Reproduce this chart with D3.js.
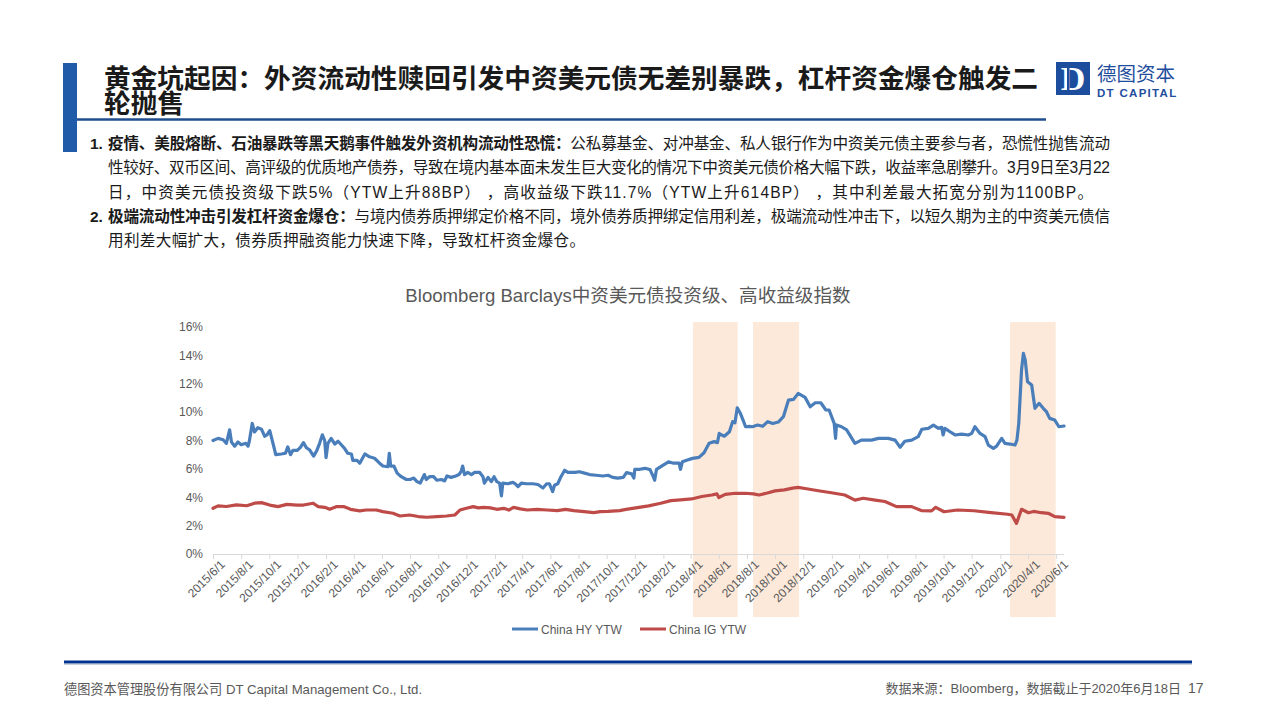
<!DOCTYPE html>
<html><head><meta charset="utf-8">
<script src="https://cdn.jsdelivr.net/npm/d3@7"></script>
<style>body{margin:0;background:#fff}svg{display:block}</style>
</head><body>
<svg id="c" width="1280" height="720"></svg>
<script>
// ---------- DATA ----------
const seriesNames = ["China HY YTW", "China IG YTW"];
const hyData = [
["2015-06-01",8.0],["2015-06-12",8.15],["2015-06-23",8.05],["2015-06-30",7.8],["2015-07-07",8.75],["2015-07-11",7.9],
["2015-07-18",7.6],["2015-07-25",7.9],["2015-08-01",7.7],["2015-08-11",7.8],["2015-08-16",7.6],["2015-08-19",8.0],
["2015-08-25",9.2],["2015-08-30",8.6],["2015-09-06",8.9],["2015-09-14",8.8],["2015-09-21",8.3],["2015-09-26",8.4],
["2015-10-02",8.7],["2015-10-09",7.8],["2015-10-15",7.0],["2015-10-27",7.05],["2015-11-05",7.1],["2015-11-10",7.55],
["2015-11-16",7.0],["2015-11-21",7.3],["2015-11-30",7.3],["2015-12-07",7.5],["2015-12-14",7.85],["2015-12-20",7.5],
["2015-12-27",7.35],["2016-01-05",6.9],["2016-01-12",7.3],["2016-01-18",7.8],["2016-01-24",8.4],["2016-01-29",8.0],
["2016-02-01",6.8],["2016-02-05",7.8],["2016-02-12",8.15],["2016-02-20",7.75],["2016-02-27",7.95],["2016-03-05",7.7],
["2016-03-12",7.45],["2016-03-19",7.1],["2016-03-27",7.05],["2016-03-30",6.6],["2016-04-08",6.6],["2016-04-14",6.4],
["2016-04-25",7.05],["2016-05-05",6.85],["2016-05-16",6.75],["2016-05-27",6.4],["2016-06-03",6.2],["2016-06-14",6.15],
["2016-06-17",7.1],["2016-06-20",6.2],["2016-06-27",6.2],["2016-07-04",5.7],["2016-07-13",5.45],["2016-07-24",5.25],
["2016-08-01",5.25],["2016-08-09",5.35],["2016-08-16",5.1],["2016-08-23",5.0],["2016-09-01",5.6],["2016-09-05",5.25],
["2016-09-12",5.45],["2016-09-21",5.45],["2016-09-28",5.2],["2016-10-08",5.25],["2016-10-15",5.15],["2016-10-20",5.5],
["2016-10-29",5.4],["2016-11-08",5.5],["2016-11-15",5.6],["2016-11-20",5.85],["2016-11-23",6.2],["2016-11-27",5.6],
["2016-12-04",5.75],["2016-12-12",5.6],["2016-12-19",5.75],["2016-12-30",5.75],["2017-01-06",5.45],["2017-01-09",5.0],
["2017-01-17",5.4],["2017-01-24",5.1],["2017-01-30",5.45],["2017-02-05",5.1],["2017-02-11",5.0],["2017-02-15",4.1],
["2017-02-18",5.0],["2017-03-01",4.95],["2017-03-12",5.05],["2017-03-17",4.95],["2017-03-23",4.75],["2017-03-30",5.0],
["2017-04-10",4.95],["2017-04-24",4.95],["2017-05-05",4.9],["2017-05-16",4.65],["2017-05-24",4.95],["2017-05-30",4.95],
["2017-06-06",4.4],["2017-06-10",4.85],["2017-06-17",4.95],["2017-06-24",5.45],["2017-07-02",5.9],["2017-07-09",5.75],
["2017-07-24",5.75],["2017-08-03",5.8],["2017-08-14",5.7],["2017-08-25",5.6],["2017-09-08",5.55],["2017-09-23",5.5],
["2017-10-04",5.55],["2017-10-14",5.4],["2017-10-25",5.35],["2017-11-06",5.4],["2017-11-13",5.74],["2017-11-24",5.65],
["2017-11-29",5.35],["2017-12-01",5.97],["2017-12-12",5.97],["2017-12-23",6.04],["2018-01-03",5.95],["2018-01-10",5.45],
["2018-01-13",5.2],["2018-01-17",5.97],["2018-01-28",6.2],["2018-02-12",6.5],["2018-02-23",6.4],["2018-03-07",6.4],
["2018-03-10",5.97],["2018-03-14",6.5],["2018-03-25",6.62],["2018-04-05",6.74],["2018-04-19",6.81],["2018-04-30",7.14],
["2018-05-11",7.8],["2018-05-22",7.92],["2018-05-29",7.85],["2018-06-02",8.5],["2018-06-06",8.4],["2018-06-13",8.3],
["2018-06-24",8.62],["2018-07-01",9.33],["2018-07-06",9.25],["2018-07-11",10.3],["2018-07-18",9.9],["2018-07-24",9.4],
["2018-07-29",8.97],["2018-08-06",9.0],["2018-08-13",8.97],["2018-08-24",9.09],["2018-09-04",9.0],["2018-09-15",9.33],
["2018-09-26",9.2],["2018-10-08",9.3],["2018-10-19",9.68],["2018-10-30",10.85],["2018-11-10",10.9],["2018-11-20",11.32],
["2018-12-05",11.04],["2018-12-16",10.38],["2018-12-27",10.66],["2019-01-08",10.66],["2019-01-19",10.15],["2019-01-26",10.15],
["2019-02-06",9.21],["2019-02-09",8.15],["2019-02-11",9.1],["2019-02-22",8.97],["2019-03-05",8.75],["2019-03-23",7.8],
["2019-04-06",8.03],["2019-04-28",8.03],["2019-05-13",8.15],["2019-06-03",8.15],["2019-06-18",8.03],["2019-06-29",7.52],
["2019-07-09",7.95],["2019-07-24",8.03],["2019-08-07",8.27],["2019-08-15",8.79],["2019-08-29",8.86],["2019-09-09",9.09],
["2019-09-20",8.86],["2019-09-27",8.93],["2019-09-30",8.39],["2019-10-04",8.86],["2019-10-15",8.62],["2019-10-26",8.39],
["2019-11-09",8.45],["2019-11-24",8.39],["2019-12-01",8.5],["2019-12-08",8.97],["2019-12-19",8.5],["2019-12-30",8.27],
["2020-01-06",7.68],["2020-01-17",7.45],["2020-01-24",7.6],["2020-02-04",8.15],["2020-02-11",7.8],["2020-02-22",7.75],
["2020-03-04",7.68],["2020-03-08",8.03],["2020-03-12",9.21],["2020-03-18",12.97],["2020-03-22",14.14],["2020-03-26",13.67],
["2020-03-31",12.14],["2020-04-09",11.91],["2020-04-16",10.27],["2020-04-25",10.62],["2020-05-04",10.27],["2020-05-11",10.03],
["2020-05-18",9.56],["2020-05-29",9.44],["2020-06-07",8.97],["2020-06-18",9.02]
];
const igData = [
["2015-06-01",3.22],["2015-06-12",3.39],["2015-06-30",3.35],["2015-07-22",3.46],["2015-08-13",3.4],["2015-08-30",3.58],
["2015-09-14",3.62],["2015-10-02",3.45],["2015-10-20",3.34],["2015-11-08",3.5],["2015-11-30",3.45],["2015-12-14",3.45],
["2016-01-04",3.58],["2016-01-15",3.34],["2016-01-29",3.29],["2016-02-09",3.15],["2016-02-24",3.34],["2016-03-10",3.34],
["2016-03-25",3.15],["2016-04-14",3.04],["2016-04-28",3.1],["2016-05-20",3.1],["2016-06-03",2.99],["2016-06-25",2.87],
["2016-07-10",2.68],["2016-07-31",2.75],["2016-08-19",2.64],["2016-09-06",2.59],["2016-09-28",2.64],["2016-10-19",2.68],
["2016-11-06",2.75],["2016-11-17",3.1],["2016-12-01",3.22],["2016-12-16",3.34],["2016-12-27",3.25],["2017-01-07",3.28],
["2017-01-22",3.25],["2017-02-05",3.15],["2017-02-20",3.22],["2017-03-03",3.1],["2017-03-13",3.29],["2017-03-28",3.18],
["2017-04-12",3.1],["2017-05-03",3.15],["2017-05-25",3.1],["2017-06-16",3.06],["2017-07-04",3.15],["2017-07-22",3.06],
["2017-08-13",2.99],["2017-09-03",2.92],["2017-09-17",2.99],["2017-10-04",3.0],["2017-10-29",3.06],["2017-11-12",3.15],
["2017-12-10",3.29],["2017-12-31",3.39],["2018-01-26",3.58],["2018-02-17",3.76],["2018-03-10",3.81],["2018-04-03",3.88],
["2018-04-25",4.05],["2018-05-17",4.16],["2018-05-28",4.24],["2018-06-01",3.98],["2018-06-15",4.2],["2018-07-07",4.28],
["2018-07-28",4.28],["2018-08-15",4.24],["2018-08-27",4.16],["2018-09-14",4.3],["2018-10-01",4.45],["2018-10-21",4.52],
["2018-11-08",4.64],["2018-11-20",4.7],["2018-12-08",4.6],["2019-01-03",4.46],["2019-01-31",4.32],["2019-03-01",4.16],
["2019-03-23",3.8],["2019-04-10",3.93],["2019-05-06",3.8],["2019-05-27",3.7],["2019-06-21",3.34],["2019-07-24",3.34],
["2019-08-15",3.05],["2019-09-05",3.04],["2019-09-14",3.29],["2019-10-02",2.98],["2019-10-31",3.1],["2019-12-06",3.05],
["2020-01-12",2.91],["2020-02-17",2.8],["2020-02-26",2.75],["2020-03-07",2.16],["2020-03-18",3.15],["2020-04-02",2.91],
["2020-04-13",3.0],["2020-04-30",2.91],["2020-05-15",2.87],["2020-05-29",2.63],["2020-06-18",2.58]
];
const shadedPeriods = [["2018-04-06","2018-07-12"],["2018-08-14","2018-11-22"],["2020-02-22","2020-05-31"]];
const xTickLabels = ["2015/6/1","2015/8/1","2015/10/1","2015/12/1","2016/2/1","2016/4/1","2016/6/1","2016/8/1",
"2016/10/1","2016/12/1","2017/2/1","2017/4/1","2017/6/1","2017/8/1","2017/10/1","2017/12/1","2018/2/1","2018/4/1",
"2018/6/1","2018/8/1","2018/10/1","2018/12/1","2019/2/1","2019/4/1","2019/6/1","2019/8/1","2019/10/1","2019/12/1",
"2020/2/1","2020/4/1","2020/6/1"];
const yTickValues = [0,2,4,6,8,10,12,14,16];
const xDomain = ["2015-06-01","2020-06-18"];

const titleLines = ["黄金坑起因：外资流动性赎回引发中资美元债无差别暴跌，杠杆资金爆仓触发二","轮抛售"];
const chartTitle = "Bloomberg Barclays中资美元债投资级、高收益级指数";
const bullets = [
  {num:"1.", lines:[
    [["疫情、美股熔断、石油暴跌等黑天鹅事件触发外资机构流动性恐慌：",true],["公私募基金、对冲基金、私人银行作为中资美元债主要参与者，恐慌性抛售流动",false]],
    [["性较好、双币区间、高评级的优质地产债券，导致在境内基本面未发生巨大变化的情况下中资美元债价格大幅下跌，收益率急剧攀升。3月9日至3月22",false]],
    [["日，中资美元债投资级下跌5%（YTW上升88BP） ，高收益级下跌11.7%（YTW上升614BP） ，其中利差最大拓宽分别为1100BP。",false]]
  ]},
  {num:"2.", lines:[
    [["极端流动性冲击引发杠杆资金爆仓：",true],["与境内债券质押绑定价格不同，境外债券质押绑定信用利差，极端流动性冲击下，以短久期为主的中资美元债信",false]],
    [["用利差大幅扩大，债券质押融资能力快速下降，导致杠杆资金爆仓。",false]]
  ]}
];
const footerLeft = "德图资本管理股份有限公司 DT Capital Management Co., Ltd.";
const footerRight = "数据来源：Bloomberg，数据截止于2020年6月18日";
const pageNum = "17";

// ---------- DRAW ----------
const svg = d3.select("#c");
const pd = d3.timeParse("%Y-%m-%d");
const cjk = "'Liberation Sans','Noto Sans CJK SC',sans-serif";
const cjkOnly = "'Noto Sans CJK SC','Liberation Sans',sans-serif";

// Header
svg.append("rect").attr("x",63).attr("y",63).attr("width",14).attr("height",89).attr("fill","#1F5BA8");
svg.append("line").attr("x1",77).attr("x2",1046).attr("y1",119.5).attr("y2",119.5).attr("stroke","#1F4E8F").attr("stroke-width",2.5);
const tt = svg.append("text").attr("font-family",cjkOnly).attr("font-weight","bold").attr("font-size",26.7).attr("fill","#1a1a1a");
titleLines.forEach((t,i)=>{ tt.append("tspan").attr("x",104).attr("y",88+i*25).text(t); });

// Logo
svg.append("rect").attr("x",1056).attr("y",62).attr("width",34).attr("height",33).attr("fill","#1C4E9D");
svg.append("text").attr("x",1073).attr("y",90).attr("text-anchor","middle").attr("font-family","'Liberation Serif',serif")
  .attr("font-weight","bold").attr("font-size",34).attr("fill","#fff").text("D");
svg.append("rect").attr("x",1067).attr("y",66).attr("width",2.5).attr("height",25).attr("fill","#1C4E9D");
svg.append("text").attr("x",1097).attr("y",80.5).attr("font-family",cjkOnly).attr("font-size",19.5).attr("fill","#1F4E9D").text("德图资本");
svg.append("text").attr("x",1097).attr("y",96.8).attr("font-family","'Liberation Sans',sans-serif").attr("font-weight","bold")
  .attr("font-size",11.5).attr("letter-spacing",1.3).attr("fill","#1F4E9D").text("DT CAPITAL");

// Bullets (line widths matched to the reference's justified lines)
const lineWidths = [[1002,1002,985],[1002,477]];
let by = 149;
bullets.forEach((b,bi)=>{
  svg.append("text").attr("x",90).attr("y",by).attr("font-family",cjk).attr("font-weight","bold").attr("font-size",15.5)
    .attr("fill","#1a1a1a").text(b.num);
  b.lines.forEach((ln,li)=>{
    const t = svg.append("text").attr("x",108).attr("y",by).attr("font-family",cjk).attr("font-size",15.6).attr("fill","#1a1a1a")
      .attr("xml:space","preserve").style("white-space","pre");
    ln.forEach(seg=>{ t.append("tspan").attr("font-weight",seg[1]?"bold":"normal").text(seg[0]); });
    t.attr("textLength",lineWidths[bi][li]).attr("lengthAdjust","spacing");
    by += 24.3;
  });
});

// Chart
const x = d3.scaleTime().domain(xDomain.map(pd)).range([213,1064]);
const y = d3.scaleLinear().domain([0,16]).range([554,327]);

svg.append("text").attr("x",628).attr("y",302).attr("text-anchor","middle").attr("font-family",cjk)
  .attr("font-size",18.6).attr("fill","#595959").text(chartTitle);

// shaded periods
svg.append("g").selectAll("rect").data(shadedPeriods).join("rect")
  .attr("x",d=>x(pd(d[0]))).attr("width",d=>x(pd(d[1]))-x(pd(d[0])))
  .attr("y",322).attr("height",295).attr("fill","#FDE9D9");

// y axis labels
const yAxis = d3.axisLeft(y).tickValues(yTickValues).tickFormat(d=>d+"%").tickSize(0).tickPadding(10);
const gy = svg.append("g").attr("transform","translate(213,0)").call(yAxis);
gy.select(".domain").remove();
gy.selectAll("text").attr("font-family","'Liberation Sans',sans-serif").attr("font-size",12).attr("fill","#595959");

// x axis
const tickDates = xTickLabels.map(s=>{const p=s.split("/").map(Number);return new Date(p[0],p[1]-1,p[2]);});
const xAxis = d3.axisBottom(x).tickValues(tickDates).tickFormat((d,i)=>xTickLabels[i]).tickSize(5).tickSizeOuter(0);
const gx = svg.append("g").attr("transform","translate(0,554)").call(xAxis);
gx.select(".domain").attr("stroke","#D9D9D9").attr("d","M213,0.5H1064");
gx.selectAll(".tick line").attr("stroke","#D9D9D9");
gx.selectAll(".tick text").attr("font-family","'Liberation Sans',sans-serif").attr("font-size",12).attr("fill","#595959")
  .attr("text-anchor","end").attr("transform","translate(5,4) rotate(-45)").attr("dy","0.35em").attr("y",6).attr("x",0);

// lines
const line = d3.line().x(d=>x(pd(d[0]))).y(d=>y(d[1]));
const colors = ["#4A7EBB","#BE4B48"];
[hyData, igData].forEach((data,i)=>{
  svg.append("path").datum(data).attr("d",line).attr("fill","none").attr("stroke",colors[i])
    .attr("stroke-width",3.2).attr("stroke-linejoin","round").attr("stroke-linecap","round");
});

// legend
const legX = [512,640];
seriesNames.forEach((n,i)=>{
  svg.append("line").attr("x1",legX[i]).attr("x2",legX[i]+26).attr("y1",629).attr("y2",629).attr("stroke",colors[i]).attr("stroke-width",3);
  svg.append("text").attr("x",legX[i]+29).attr("y",633.5).attr("font-family","'Liberation Sans',sans-serif").attr("font-size",12)
    .attr("fill","#595959").text(n);
});

// footer
svg.append("line").attr("x1",64).attr("x2",1192).attr("y1",662).attr("y2",662).attr("stroke","#00338D").attr("stroke-width",3);
svg.append("line").attr("x1",64).attr("x2",1192).attr("y1",664.5).attr("y2",664.5).attr("stroke","#C9D0DC").attr("stroke-width",1);
svg.append("text").attr("x",64).attr("y",694).attr("font-family",cjk).attr("font-size",13.2).attr("fill","#595959").text(footerLeft);
svg.append("text").attr("x",1181).attr("y",693).attr("text-anchor","end").attr("font-family",cjk).attr("font-size",13).attr("fill","#595959").text(footerRight);
svg.append("text").attr("x",1188).attr("y",693).attr("font-family",cjk).attr("font-size",14).attr("fill","#595959").text(pageNum);
</script>
</body></html>
